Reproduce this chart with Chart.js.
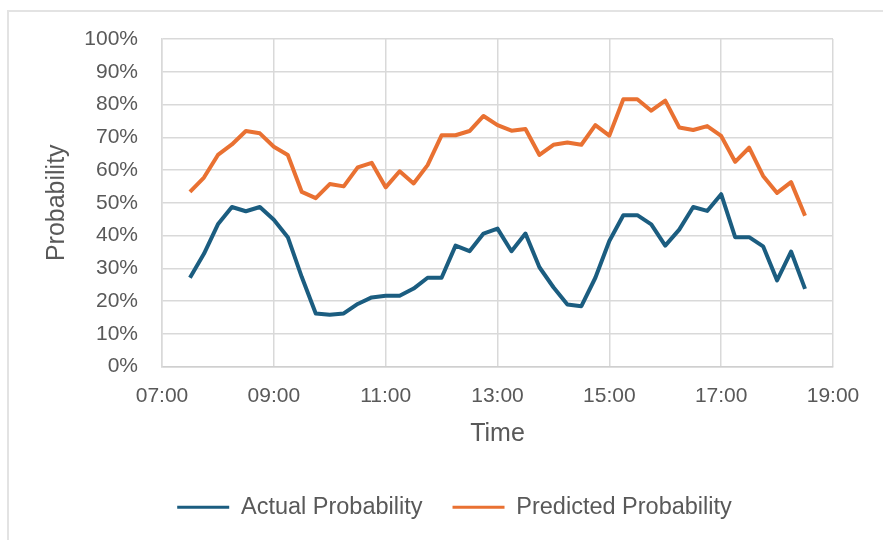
<!DOCTYPE html>
<html>
<head>
<meta charset="utf-8">
<script src="https://cdn.jsdelivr.net/npm/chart.js@4"></script>
<style>
  html, body { margin: 0; padding: 0; background: #fff; }
  #wrap { position: relative; width: 883px; height: 540px; }
  #frame { position: absolute; left: 7px; top: 10px; right: 0; bottom: 0;
           border-left: 2px solid #e3e3e3; border-top: 2px solid #e3e3e3; }
  canvas { position: absolute; left: 0; top: 0; }
</style>
</head>
<body>
<div id="wrap">
  <div id="frame"></div>
  <canvas id="myChart" width="883" height="540"></canvas>
</div>
<script>
// 15 minute slots, 07:30 - 18:30
const times = [
  '07:30', '07:45', '08:00', '08:15', '08:30', '08:45', '09:00', '09:15', '09:30', '09:45',
  '10:00', '10:15', '10:30', '10:45', '11:00', '11:15', '11:30', '11:45', '12:00', '12:15',
  '12:30', '12:45', '13:00', '13:15', '13:30', '13:45', '14:00', '14:15', '14:30', '14:45',
  '15:00', '15:15', '15:30', '15:45', '16:00', '16:15', '16:30', '16:45', '17:00', '17:15',
  '17:30', '17:45', '18:00', '18:15', '18:30'
];

// probabilities in %
const actual = [
  27.1, 34.4, 43.4, 48.7, 47.4, 48.7, 44.8, 39.5, 27.3, 16.2,
  15.8, 16.2, 19.1, 21.1, 21.6, 21.6, 23.8, 27.1, 27.1, 36.9,
  35.2, 40.6, 42.1, 35.2, 40.6, 30.3, 24.2, 18.9, 18.4, 27.1,
  38.3, 46.2, 46.2, 43.4, 36.9, 41.8, 48.7, 47.5, 52.6, 39.5,
  39.5, 36.7, 26.3, 35.1, 23.7
];
const predicted = [
  53.3, 57.7, 64.6, 67.8, 71.9, 71.2, 67.1, 64.6, 53.3, 51.4,
  55.7, 55.0, 60.8, 62.2, 54.7, 59.6, 55.9, 61.5, 70.6, 70.6,
  71.9, 76.5, 73.7, 72.0, 72.5, 64.6, 67.7, 68.4, 67.7, 73.7,
  70.5, 81.6, 81.6, 78.1, 81.2, 73.0, 72.2, 73.4, 70.4, 62.5,
  66.8, 58.2, 53.0, 56.3, 46.0
];

const xTicks = [7, 9, 11, 13, 15, 17, 19];
const yTicks = [0, 10, 20, 30, 40, 50, 60, 70, 80, 90, 100];

const toHours = t => {
  const [h, m] = t.split(':').map(Number);
  return h + m / 60;
};
const points = vals => times.map((t, i) => ({ x: toHours(t), y: vals[i] }));

const textColor = '#595959';
const gridColor = '#d9d9d9';
const fontFamily = '"Liberation Sans", Arial, sans-serif';

// nudge the legend row to the right so it sits under the middle of the frame
const legendShift = {
  id: 'legendShift',
  afterLayout(chart) {
    chart.legend.left += 17;
    chart.legend.right += 17;
  }
};

const ctx = document.getElementById('myChart').getContext('2d');
const myChart = new Chart(ctx, {
  type: 'line',
  data: {
    datasets: [{
      label: 'Actual Probability',
      data: points(actual),
      borderColor: '#1b5d80',
      backgroundColor: '#1b5d80',
      borderWidth: 4,
      pointRadius: 0,
      tension: 0,
      borderJoinStyle: 'round'
    }, {
      label: 'Predicted Probability',
      data: points(predicted),
      borderColor: '#e97132',
      backgroundColor: '#e97132',
      borderWidth: 4,
      pointRadius: 0,
      tension: 0,
      borderJoinStyle: 'round'
    }]
  },
  plugins: [legendShift],
  options: {
    responsive: false,
    animation: false,
    layout: {
      padding: { left: 42, right: 50, top: 39, bottom: 11 }
    },
    plugins: {
      tooltip: { enabled: false },
      legend: {
        position: 'bottom',
        labels: {
          color: textColor,
          font: { family: fontFamily, size: 23.5 },
          boxWidth: 52,
          boxHeight: 3,
          padding: 30,
          generateLabels: chart => Chart.defaults.plugins.legend.labels.generateLabels(chart)
            .map(item => Object.assign(item, { lineWidth: 0 }))
        }
      }
    },
    scales: {
      x: {
        type: 'linear',
        min: 7,
        max: 19,
        afterBuildTicks: axis => { axis.ticks = xTicks.map(v => ({ value: v })); },
        afterFit: axis => { axis.height = 99; },
        ticks: {
          color: textColor,
          font: { family: fontFamily, size: 21 },
          padding: 17,
          maxRotation: 0,
          callback: v => String(v).padStart(2, '0') + ':00'
        },
        grid: { color: gridColor, lineWidth: 1.5, drawTicks: false },
        border: { color: '#cfcfcf', width: 1.5 },
        title: {
          display: true,
          text: 'Time',
          color: textColor,
          font: { family: fontFamily, size: 25 },
          padding: { top: 0, bottom: 16 }
        }
      },
      y: {
        min: 0,
        max: 100,
        afterBuildTicks: axis => { axis.ticks = yTicks.map(v => ({ value: v })); },
        afterFit: axis => { axis.width = 120; },
        ticks: {
          color: textColor,
          font: { family: fontFamily, size: 21 },
          padding: 24,
          callback: v => v + '%'
        },
        grid: { color: gridColor, lineWidth: 1.5, drawTicks: false },
        border: { color: gridColor, width: 1.5 },
        title: {
          display: true,
          text: 'Probability',
          color: textColor,
          font: { family: fontFamily, size: 25 },
          padding: { top: 0, bottom: 0 }
        }
      }
    }
  }
});
</script>
</body>
</html>
